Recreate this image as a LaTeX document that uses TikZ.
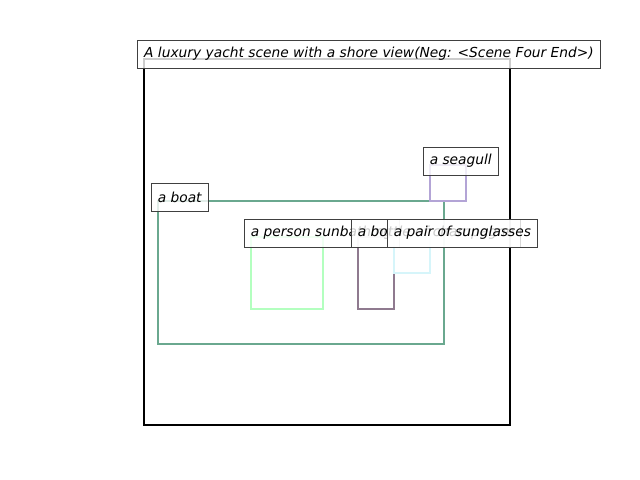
\documentclass[tikz,border=0pt]{standalone}
\usepackage{fontspec}
\setmainfont{DejaVu Sans}
\usetikzlibrary{positioning}
\definecolor{boatcol}{RGB}{106,168,143}
\definecolor{gullcol}{RGB}{179,164,214}
\definecolor{personcol}{RGB}{179,255,191}
\definecolor{bottlecol}{RGB}{143,122,143}
\definecolor{glasscol}{RGB}{214,245,250}
\tikzset{%
  % boxes and their labels
            box/.style = {line width=1.6pt},
            tag/.style = {draw=black!75, fill=white, fill opacity=0.8,
                            text opacity=1, anchor=west, inner xsep=4.6pt,
                            minimum height=19.8pt,
                            font=\fontsize{9.8}{11}\selectfont\itshape}
}
\begin{document}
\begin{tikzpicture}[x=0.025cm, y=-0.025cm]
                        \useasboundingbox (0,0) rectangle (640,480);
                        \draw[box, black] (144,59) rectangle (510,425);
                        \draw[box, boatcol] (158,201) rectangle (444,344);
                        \draw[box, gullcol] (430,165) rectangle (466,201);
                        \draw[box, personcol] (251,237) rectangle (323,309);
                        \draw[box, bottlecol] (358,237) rectangle (394,309);
                        \draw[box, glasscol] (394,237) rectangle (430,273);
                        \node[tag] (boat) at (151,197) {a boat};
                        \node[tag] (gull) at (423,161) {a seagull};
                        \node[tag] (person) at (244,233) {a person sunbathing};
                        \node[tag] (bottle) at (351,233) {a bottle of champagne};
                        \node[tag] (glasses) at (387,233) {a pair of sunglasses};
                        \node[tag, anchor=center] (title) at (369,54)
                            {A luxury yacht scene with a shore view(Neg: <Scene Four End>)};
                    \end{tikzpicture}
\end{document}
